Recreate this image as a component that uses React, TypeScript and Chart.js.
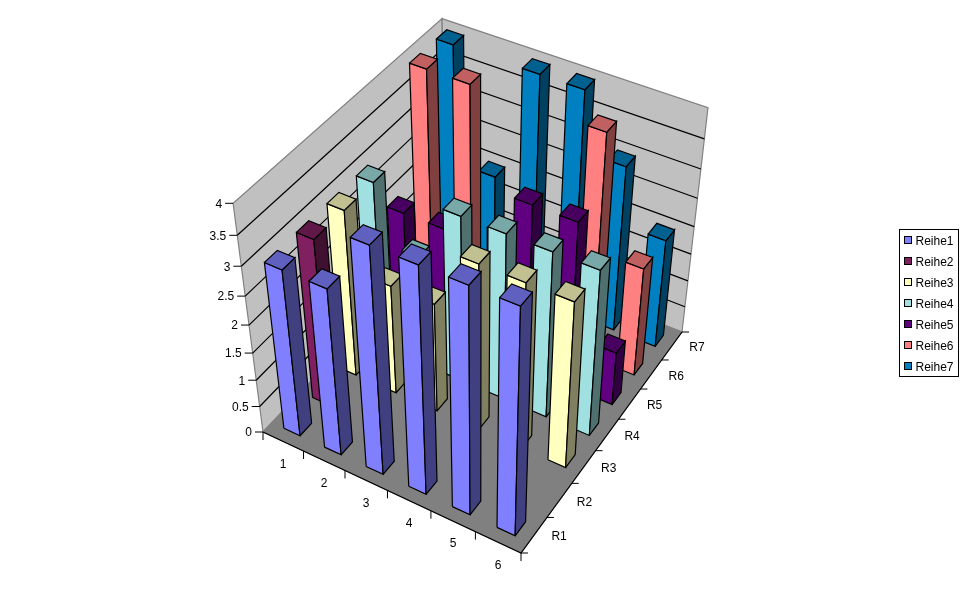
import React, { useEffect, useRef } from "react";
import { Chart, registerables } from "chart.js";

Chart.register(...registerables);

const categories = ["1", "2", "3", "4", "5", "6"];
const depthLabels = ["R1", "R2", "R3", "R4", "R5", "R6", "R7"];
const valueTicks = [0, 0.5, 1, 1.5, 2, 2.5, 3, 3.5, 4];
const seriesNames = ["Reihe1", "Reihe2", "Reihe3", "Reihe4", "Reihe5", "Reihe6", "Reihe7"];

const reihe1 = [3, 3, 4, 4, 4, 4];
const reihe2 = [3, null, null, null, null, null];
const reihe3 = [3, 2, 2, 3, 3, 3];
const reihe4 = [3, 2, 3, 3, 3, 3];
const reihe5 = [2, 2, null, 3, 3, 1];
const reihe6 = [4, 4, null, null, 4, 2];
const reihe7 = [4, 2, 4, 4, 3, 2];
const seriesValues = [reihe1, reihe2, reihe3, reihe4, reihe5, reihe6, reihe7];

const frontColors = ["#8080FF", "#802060", "#FFFFC0", "#A0E0E0", "#600080", "#FF8080", "#0080C0"];
const topColors = ["#6060C0", "#601848", "#C0C090", "#78A8A8", "#480060", "#C06060", "#006090"];
const sideColors = ["#404080", "#401030", "#808060", "#507070", "#300040", "#804040", "#004060"];

// Perspective camera: floor corners and the vanishing point of the verticals
const floorL = [263, 432];
const floorF = [521, 553];
const floorR = [682, 332];
const floorB = [446, 239];
const vanish = [479, 2084];
const zScale = -0.0304;
const barFraction = 0.4;

function floorHomography() {
  const [x0, y0] = floorL, [x1, y1] = floorF, [x2, y2] = floorR, [x3, y3] = floorB;
  const dx1 = x1 - x2, dx2 = x3 - x2, sx = x0 - x1 + x2 - x3;
  const dy1 = y1 - y2, dy2 = y3 - y2, sy = y0 - y1 + y2 - y3;
  const den = dx1 * dy2 - dx2 * dy1;
  const g = (sx * dy2 - dx2 * sy) / den;
  const h = (dx1 * sy - sx * dy1) / den;
  return { a: x1 - x0 + g * x1, b: x3 - x0 + h * x3, c: x0, d: y1 - y0 + g * y1, e: y3 - y0 + h * y3, f: y0, g, h };
}
const H = floorHomography();

// u: along categories (0..n), v: along depth rows (0..m), z: value
function project(cat: number, row: number, z: number) {
  const u = cat / categories.length, v = row / depthLabels.length;
  const w = H.g * u + H.h * v + 1 + zScale * z;
  const X = H.a * u + H.b * v + H.c + zScale * z * vanish[0];
  const Y = H.d * u + H.e * v + H.f + zScale * z * vanish[1];
  return { x: X / w, y: Y / w };
}

function poly(points: { x: number; y: number }[], fill: string | null, stroke: string, width = 1.2) {
  return {
    type: "scatter" as const,
    showLine: true,
    data: fill ? [...points, points[0]] : points,
    parsing: false,
    pointRadius: 0,
    pointHoverRadius: 0,
    borderWidth: width,
    borderColor: stroke,
    backgroundColor: fill ?? "transparent",
    fill: fill ? "shape" : false,
    tension: 0,
    clip: false,
  };
}

function buildDatasets() {
  const nc = categories.length, nr = depthLabels.length, top = valueTicks[valueTicks.length - 1];
  const out: any[] = [];
  // walls and floor
  out.push(poly([project(0, 0, 0), project(0, nr, 0), project(0, nr, top), project(0, 0, top)], "#C0C0C0", "#808080"));
  out.push(poly([project(0, nr, 0), project(nc, nr, 0), project(nc, nr, top), project(0, nr, top)], "#C0C0C0", "#808080"));
  out.push(poly([project(0, 0, 0), project(nc, 0, 0), project(nc, nr, 0), project(0, nr, 0)], "#808080", "#808080"));
  // gridlines
  for (const t of valueTicks.slice(1, -1)) {
    out.push(poly([project(0, 0, t), project(0, nr, t), project(nc, nr, t)], null, "#000000"));
  }
  // axis lines
  out.push(poly([project(0, 0, 0), project(nc, 0, 0), project(nc, nr, 0)], null, "#000000"));
  // bars, back to front
  const off = (1 - barFraction) / 2;
  for (let s = seriesValues.length - 1; s >= 0; s--) {
    for (let c = 0; c < nc; c++) {
      const val = seriesValues[s][c];
      if (val == null) continue;
      const u0 = c + off, u1 = c + off + barFraction, v0 = s + off, v1 = s + off + barFraction;
      out.push(poly([project(u0, v0, 0), project(u1, v0, 0), project(u1, v0, val), project(u0, v0, val)], frontColors[s], "#000000"));
      out.push(poly([project(u1, v0, 0), project(u1, v1, 0), project(u1, v1, val), project(u1, v0, val)], sideColors[s], "#000000"));
      out.push(poly([project(u0, v0, val), project(u1, v0, val), project(u1, v1, val), project(u0, v1, val)], topColors[s], "#000000"));
    }
  }
  const total = out.length;
  out.forEach((d, i) => (d.order = total - i));
  return out;
}

const annotations = {
  id: "annotations",
  afterDatasetsDraw(chart: any) {
    const { ctx, scales } = chart;
    const px = (p: { x: number; y: number }) => ({ x: scales.x.getPixelForValue(p.x), y: scales.y.getPixelForValue(p.y) });
    const nc = categories.length, nr = depthLabels.length;
    const line = (x0: number, y0: number, x1: number, y1: number) => {
      ctx.beginPath();
      ctx.moveTo(x0, y0);
      ctx.lineTo(x1, y1);
      ctx.stroke();
    };
    ctx.save();
    ctx.font = '12px "Liberation Sans", Arial, sans-serif';
    ctx.fillStyle = "#000000";
    ctx.strokeStyle = "#000000";
    ctx.lineWidth = 1;
    ctx.textBaseline = "middle";

    ctx.textAlign = "right";
    valueTicks.forEach((t) => {
      const p = px(project(0, 0, t));
      line(p.x - 8, p.y, p.x, p.y);
      ctx.fillText(String(t), p.x - 11, p.y + 1);
    });

    ctx.textAlign = "center";
    for (let c = 0; c <= nc; c++) {
      const p = px(project(c, 0, 0));
      line(p.x, p.y, p.x, p.y + 8);
    }
    categories.forEach((label, c) => {
      const p = px(project(c + 0.5, 0, 0));
      ctx.fillText(label, p.x, p.y + 23);
    });

    for (let r = 0; r <= nr; r++) {
      const p = px(project(nc, r, 0));
      line(p.x, p.y, p.x + 7, p.y);
    }
    depthLabels.forEach((label, r) => {
      const p = px(project(nc, r + 0.5, 0));
      ctx.fillText(label, p.x + 25, p.y + 2);
    });

    // legend
    const lx = 899.5, ly = 229.5, rowH = 21;
    ctx.strokeRect(lx, ly, 59, 147);
    ctx.textAlign = "left";
    seriesNames.forEach((name, i) => {
      const cy = ly + 11 + i * rowH;
      ctx.fillStyle = frontColors[i];
      ctx.fillRect(lx + 5, cy - 4, 7, 7);
      ctx.strokeRect(lx + 5, cy - 4, 7, 7);
      ctx.fillStyle = "#000000";
      ctx.fillText(name, lx + 16, cy + 1);
    });
    ctx.restore();
  },
};

export default function App() {
  const ref = useRef<HTMLCanvasElement>(null);
  useEffect(() => {
    document.body.style.margin = "0";
    document.body.style.background = "#ffffff";
    const chart = new Chart(ref.current!, {
      type: "scatter",
      data: { datasets: buildDatasets() },
      options: {
        animation: false,
        responsive: false,
        events: [],
        layout: { padding: 0 },
        plugins: { legend: { display: false }, tooltip: { enabled: false } },
        scales: {
          x: { type: "linear", min: 0, max: 970, display: false },
          y: { type: "linear", min: 0, max: 604, reverse: true, display: false },
        },
      },
      plugins: [annotations],
    } as any);
    return () => chart.destroy();
  }, []);
  return <canvas ref={ref} width={970} height={604} style={{ display: "block" }} />;
}
